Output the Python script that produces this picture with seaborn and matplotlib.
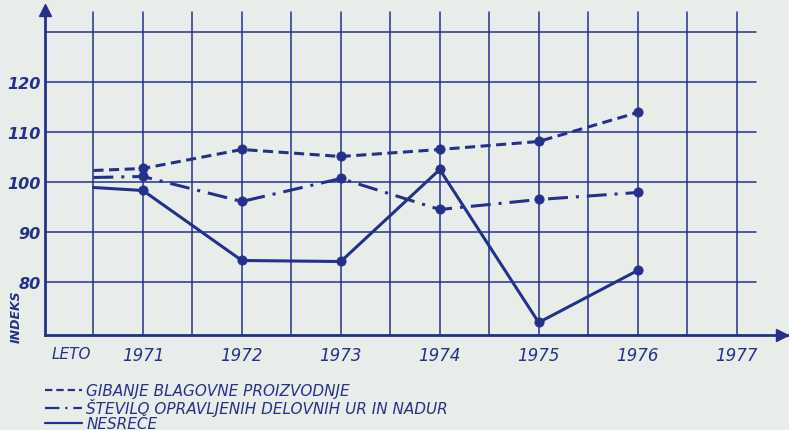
import numpy as np
import pandas as pd
import matplotlib
matplotlib.use('Agg')
import matplotlib.pyplot as plt
import seaborn as sns

# podatki (odčitano z grafa)
leta = [1970.5, 1971, 1972, 1973, 1974, 1975, 1976]
proizvodnja = [102.4, 102.8, 106.6, 105.2, 106.6, 108.2, 114.0]
ure = [101.0, 101.2, 96.2, 100.8, 94.6, 96.6, 98.0]
nesrece = [99.0, 98.4, 84.4, 84.2, 102.6, 72.0, 82.4]

oznake_let = ['1971', '1972', '1973', '1974', '1975', '1976', '1977']
y_oznake = [80, 90, 100, 110, 120]
serije = ['GIBANJE BLAGOVNE PROIZVODNJE',
          'ŠTEVILO OPRAVLJENIH DELOVNIH UR IN NADUR',
          'NESREČE']

sns.set_theme(style='white')
plt.rcParams['font.family'] = ['DejaVu Sans']

modra = '#24318a'
ozadje = '#e9edea'

df = pd.concat([
    pd.DataFrame({'leto': leta, 'indeks': proizvodnja, 'serija': serije[0]}),
    pd.DataFrame({'leto': leta, 'indeks': ure, 'serija': serije[1]}),
    pd.DataFrame({'leto': leta, 'indeks': nesrece, 'serija': serije[2]}),
])

fig = plt.figure(figsize=(7.89, 4.31), dpi=100, facecolor=ozadje)
ax = fig.add_axes([45 / 789, 1 - 336 / 431, 744 / 789, 326 / 431])
ax.set_facecolor('none')
ax.set_xlim(1970.01, 1977.53)
ax.set_ylim(69.5, 134.7)

# mreža
for y in [80, 90, 100, 110, 120, 130]:
    ax.plot([1970.01, 1977.2], [y, y], color=modra, lw=1.1, zorder=1)
for x in np.arange(1970.5, 1977.01, 0.5):
    ax.plot([x, x], [69.5, 134.1], color=modra, lw=1.1, zorder=1)

crte = {serije[0]: (3.3, 1.8), serije[1]: (6.5, 2.6, 1, 2.6), serije[2]: ''}
sns.lineplot(data=df, x='leto', y='indeks', style='serija', dashes=crte,
             color=modra, lw=2.2, ax=ax, legend=True, zorder=3)
tocke = df[df['leto'] >= 1971]
sns.scatterplot(data=tocke, x='leto', y='indeks', color=modra, s=45,
                edgecolor=modra, ax=ax, legend=False, zorder=4)

# osi s puščicami
for s in ['top', 'right']:
    ax.spines[s].set_visible(False)
for s in ['left', 'bottom']:
    ax.spines[s].set_color(modra)
    ax.spines[s].set_linewidth(2)
ax.plot([1970.01], [134.4], marker='^', ms=9, color=modra, clip_on=False, zorder=5)
ax.plot([1977.46], [69.5], marker='>', ms=9, color=modra, clip_on=False, zorder=5)

ax.set_xticks(range(1971, 1978))
ax.set_xticklabels(oznake_let, fontsize=12, fontstyle='italic', color=modra)
ax.set_yticks(y_oznake)
ax.set_yticklabels([str(v) for v in y_oznake], fontsize=11.5, fontstyle='italic',
                   fontweight='bold', color=modra)
ax.tick_params(length=0, pad=3)
ax.tick_params(axis='x', pad=8)
ax.set_xlabel('')
ax.set_ylabel('')

fig.text(52 / 789, 1 - 355 / 431, 'LETO', fontsize=11, fontstyle='italic',
         color=modra, va='center', ha='left')
fig.text(16 / 789, 1 - 317 / 431, 'INDEKS', fontsize=9, fontstyle='italic',
         fontweight='bold', color=modra, rotation=90, va='center', ha='center')

h, l = ax.get_legend_handles_labels()
ax.get_legend().remove()
for hh in h:
    hh.set_linewidth(1.6)
fig.legend(h, l, loc='upper left', bbox_to_anchor=(45 / 789, 1 - 384 / 431),
           frameon=False, handlelength=2.4, handletextpad=0.3,
           labelspacing=0.0, borderpad=0, borderaxespad=0,
           prop={'style': 'italic', 'size': 11})
for t in fig.legends[0].get_texts():
    t.set_color(modra)

fig.savefig('out.png', dpi=100, facecolor=ozadje)
